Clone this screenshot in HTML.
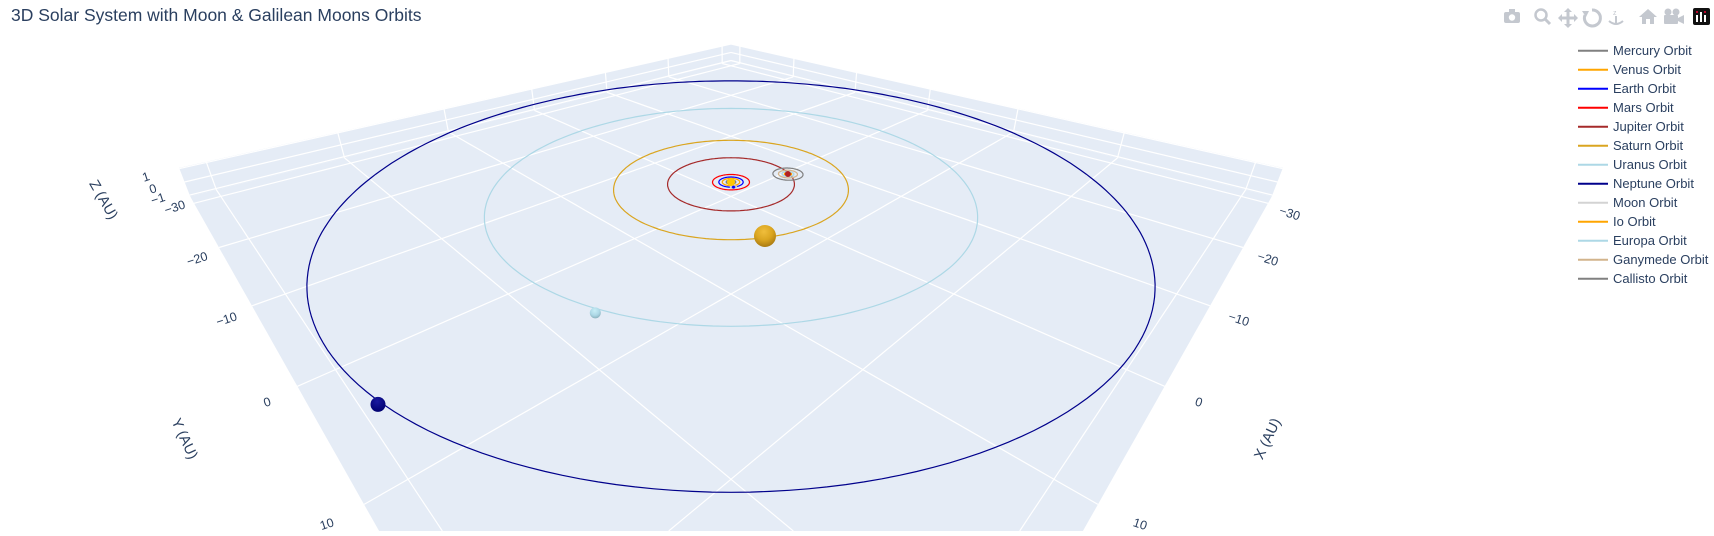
<!DOCTYPE html>
<html><head><meta charset="utf-8"><style>
html,body{margin:0;padding:0;background:#fff;width:1714px;height:536px;overflow:hidden}
svg{overflow:hidden;display:block}
text{font-family:"Liberation Sans",Arial,sans-serif;fill:#2a3f5f}
</style></head><body>
<svg id="chart" width="1714" height="536" viewBox="0 0 1714 536" xmlns="http://www.w3.org/2000/svg">
<defs>
<clipPath id="sceneClip"><rect x="0" y="30" width="1420" height="501"/></clipPath>
<radialGradient id="gSat" cx="45%" cy="30%" r="70%"><stop offset="0" stop-color="#f0be3c"/><stop offset="0.55" stop-color="#daa520"/><stop offset="1" stop-color="#a97a12"/></radialGradient>
<radialGradient id="gUra" cx="45%" cy="30%" r="70%"><stop offset="0" stop-color="#c8eef6"/><stop offset="0.6" stop-color="#add8e6"/><stop offset="1" stop-color="#8bb2be"/></radialGradient>
<radialGradient id="gNep" cx="45%" cy="30%" r="70%"><stop offset="0" stop-color="#1a1aa0"/><stop offset="1" stop-color="#000070"/></radialGradient>
</defs>
<text x="11" y="21" font-size="17.5">3D Solar System with Moon &amp; Galilean Moons Orbits</text>
<g id="scene" clip-path="url(#sceneClip)"></g>
<g id="ticks" clip-path="url(#sceneClip)"></g>
<g fill="#c4c8cf">
  <g><rect x="1504" y="12" width="16" height="11" rx="2"/><rect x="1509" y="9" width="6" height="4"/><circle cx="1512" cy="17.5" r="3.2" fill="#fff"/></g>
  <g><circle cx="1541" cy="15" r="5.5" fill="none" stroke="#c4c8cf" stroke-width="2.5"/><line x1="1545" y1="19" x2="1550" y2="24" stroke="#c4c8cf" stroke-width="3"/></g>
  <g><path d="M1568 8 L1572 12 L1569.5 12 L1569.5 16.5 L1574 16.5 L1574 14 L1578 18 L1574 22 L1574 19.5 L1569.5 19.5 L1569.5 24 L1572 24 L1568 28 L1564 24 L1566.5 24 L1566.5 19.5 L1562 19.5 L1562 22 L1558 18 L1562 14 L1562 16.5 L1566.5 16.5 L1566.5 12 L1564 12Z"/></g>
  <g><path d="M1592 10 a8 8 0 1 1 -7 5" fill="none" stroke="#c4c8cf" stroke-width="3"/><path d="M1582 11 L1589 11 L1586 17Z"/></g>
  <g><text x="1613" y="15" font-size="7" style="fill:#c4c8cf">z</text><rect x="1615" y="16" width="2" height="7"/><path d="M1609 21 q7 6 14 0" fill="none" stroke="#c4c8cf" stroke-width="2"/></g>
  <g><path d="M1648 9 L1657 17 L1654 17 L1654 24 L1650 24 L1650 19 L1646 19 L1646 24 L1642 24 L1642 17 L1639 17Z"/></g>
  <g><circle cx="1668" cy="12" r="3.5"/><circle cx="1676" cy="12" r="3.5"/><rect x="1664" y="15" width="14" height="9" rx="1"/><path d="M1678 18 L1684 15 L1684 24 L1678 21Z"/></g>
  <g><rect x="1693" y="8" width="17" height="17" rx="2" fill="#111"/><rect x="1696" y="15" width="2" height="7" fill="#fff"/><rect x="1700" y="12" width="2" height="10" fill="#fff"/><rect x="1704" y="15" width="2" height="7" fill="#fff"/><circle cx="1697" cy="12" r="1" fill="#e03"/><circle cx="1705" cy="12" r="1" fill="#e03"/></g>
</g>
<g id="legend"></g>
</svg>
<script>
// ---- chart data ----
const orbitNames = ["Mercury Orbit","Venus Orbit","Earth Orbit","Mars Orbit","Jupiter Orbit","Saturn Orbit","Uranus Orbit","Neptune Orbit","Moon Orbit","Io Orbit","Europa Orbit","Ganymede Orbit","Callisto Orbit"];
const orbitRadii = [0.39,0.72,1.0,1.52,5.2,9.54,19.2,30.06,0.25,0.3,0.5,0.8,1.27];
const orbitCenterX = [0,0,0,0,0,0,0,0,0.55,-4.55,-4.55,-4.55,-4.55];
const orbitCenterY = [0,0,0,0,0,0,0,0,0.84,2.26,2.26,2.26,2.26];
const orbitColors = ["#808080","#ffa500","#0000ff","#ff0000","#a52a2a","#daa520","#add8e6","#00008b","#d3d3d3","#ffa500","#add8e6","#d2b48c","#808080"];
const bodyNames = ["Sun","Earth","Jupiter","Saturn","Uranus","Neptune"];
const bodyX = [0,0.55,-4.55,4.7,18.2,29.6];
const bodyY = [0,0.84,2.26,8.05,7.2,6.0];
const bodySizes = [4,1.5,3,11,5.5,7.5];
const bodyFills = ["#ffc800","#0000ff","#b22222","url(#gSat)","url(#gUra)","url(#gNep)"];
const xTicks = [-30,-20,-10,0,10,20,30];
const yTicks = [-30,-20,-10,0,10,20,30];
const zTicks = [-1,0,1];
const axisRange = 31.8, zMin = -1.1, zMax = 1.1;

// ---- camera ----
const CX=731, CY=182, F=652.8, SA=0.4177, CA=0.9086, DC=53.73, KZ=1.2;
const YLIM=531;
function proj(x,y,z){
  const s=(y-x)/Math.SQRT2, w=-(x+y)/Math.SQRT2, zz=z*KZ;
  const d=DC+w*CA-zz*SA;
  return [CX+F*s/d, CY-F*(w*SA+zz*CA)/d, d];
}
const NS="http://www.w3.org/2000/svg";
function mk(tag,attrs,parent){const e=document.createElementNS(NS,tag);for(const k in attrs)e.setAttribute(k,attrs[k]);parent.appendChild(e);return e;}
function cut(a,b){const t=(YLIM-a[1])/(b[1]-a[1]);return [a[0]+(b[0]-a[0])*t,YLIM];}
// polyline clipped to y<=YLIM
function pathOf(pts){
  let out="",pen=false;
  for(let i=0;i<pts.length;i++){
    const p=pts[i],inP=p[1]<=YLIM;
    if(i>0){
      const q=pts[i-1],inQ=q[1]<=YLIM;
      if(inQ&&!inP){const c=cut(q,p);out+="L"+c[0].toFixed(1)+" "+c[1].toFixed(1);pen=false;continue;}
      if(!inQ&&inP){const c=cut(q,p);out+="M"+c[0].toFixed(1)+" "+c[1].toFixed(1);pen=true;}
    }
    if(inP){out+=(pen?"L":"M")+p[0].toFixed(1)+" "+p[1].toFixed(1);pen=true;}
  }
  return out||"M0 0";
}
// polygon clipped to y<=YLIM
function polyOf(pts){
  const o=[];
  for(let i=0;i<pts.length;i++){
    const p=pts[i],q=pts[(i+1)%pts.length],inP=p[1]<=YLIM,inQ=q[1]<=YLIM;
    if(inP)o.push(p);
    if(inP!==inQ)o.push(cut(p,q));
  }
  return o.map((p,i)=>(i?"L":"M")+p[0].toFixed(1)+" "+p[1].toFixed(1)).join(" ")+"Z";
}
function line3(a,b,n){const pts=[];for(let i=0;i<=n;i++){const t=i/n;pts.push(proj(a[0]+(b[0]-a[0])*t,a[1]+(b[1]-a[1])*t,a[2]+(b[2]-a[2])*t));}return pts;}
const scene=document.getElementById('scene');
const R=axisRange;
const floor=mk('path',{d:polyOf(line3([-R,-R,zMin],[R,-R,zMin],4).concat(line3([R,-R,zMin],[R,R,zMin],40),line3([R,R,zMin],[-R,R,zMin],40),line3([-R,R,zMin],[-R,-R,zMin],4))),fill:"#e5ecf6"},scene);


const wall1=mk('path',{d:polyOf([proj(-R,-R,zMin),proj(R,-R,zMin),proj(R,-R,zMax),proj(-R,-R,zMax)]),fill:"#e5ecf6"},scene);


const wall2=mk('path',{d:polyOf([proj(-R,-R,zMin),proj(-R,R,zMin),proj(-R,R,zMax),proj(-R,-R,zMax)]),fill:"#e5ecf6"},scene);


const grid=mk('g',{stroke:"#ffffff","stroke-width":1.2,fill:"none"},scene);


xTicks.forEach(t=>{
  const g1=mk('path',{d:pathOf(line3([t,-R,zMin],[t,R,zMin],40))},grid);
  
  
  const g2=mk('path',{d:pathOf([proj(t,-R,zMin),proj(t,-R,zMax)])},grid);
  
  
});
yTicks.forEach(t=>{
  const g1=mk('path',{d:pathOf(line3([-R,t,zMin],[R,t,zMin],40))},grid);
  
  
  const g2=mk('path',{d:pathOf([proj(-R,t,zMin),proj(-R,t,zMax)])},grid);
  
  
});
zTicks.concat([zMax]).forEach(t=>{
  const g1=mk('path',{d:pathOf([proj(-R,-R,t),proj(R,-R,t)])},grid);
  
  
  const g2=mk('path',{d:pathOf([proj(-R,-R,t),proj(-R,R,t)])},grid);
  
  
});
orbitNames.forEach((nm,i)=>{
  const pts=[];const n=240;
  for(let k=0;k<=n;k++){const a=2*Math.PI*k/n;pts.push(proj(orbitCenterX[i]+orbitRadii[i]*Math.cos(a),orbitCenterY[i]+orbitRadii[i]*Math.sin(a),0));}
  const p=mk('path',{d:pathOf(pts),fill:"none",stroke:orbitColors[i],"stroke-width":1.2},scene);
  
  
});
bodyNames.forEach((nm,i)=>{
  const p=proj(bodyX[i],bodyY[i],0);
  const c=mk('circle',{cx:p[0].toFixed(1),cy:p[1].toFixed(1),r:bodySizes[i],fill:bodyFills[i]},scene);
  
  
});
const tg=document.getElementById('ticks');
function lbl(txt,x,y,rot,size,name){
  if(y>YLIM+4)return;
  const t=mk('text',{x:x.toFixed(1),y:y.toFixed(1),"font-size":size,"text-anchor":"middle","dominant-baseline":"central",transform:"rotate("+rot+" "+x.toFixed(1)+" "+y.toFixed(1)+")"},tg);
  t.textContent=txt;
  
  
}
function fmt(v){return v<0?"\u2212"+Math.abs(v):String(v);}
yTicks.forEach(t=>{const p=proj(R,t,zMin);const k=34/p[2];lbl(fmt(t),p[0]-30*k,p[1]+16*k-(t===-30?6:0),-18,12.5,'y-tick-label');});
xTicks.forEach(t=>{const p=proj(t,R,zMin);const k=34/p[2];lbl(fmt(t),p[0]+34*k,p[1]+16*k,18,12.5,'x-tick-label');});
const zl=[[146,177],[153,189],[158,199]];
zTicks.slice().reverse().forEach((t,i)=>{lbl(fmt(t),zl[i][0],zl[i][1],-18,12.5,'z-tick-label');});
lbl("Y (AU)",184,439,65,14.5,'y-axis-title');
lbl("Z (AU)",103,200,60,14.5,'z-axis-title');
lbl("X (AU)",1268,439,-65,14.5,'x-axis-title');
const lg=document.getElementById('legend');
orbitNames.forEach((nm,i)=>{
  const y=50.7+19*i;
  const g=mk('g',{},lg);
  
  
  mk('line',{x1:1578,y1:y,x2:1608,y2:y,stroke:orbitColors[i],"stroke-width":2},g);
  const t=mk('text',{x:1613,y:y+4.5,"font-size":13},g);
  t.textContent=nm;
});
</script>
</body></html>
